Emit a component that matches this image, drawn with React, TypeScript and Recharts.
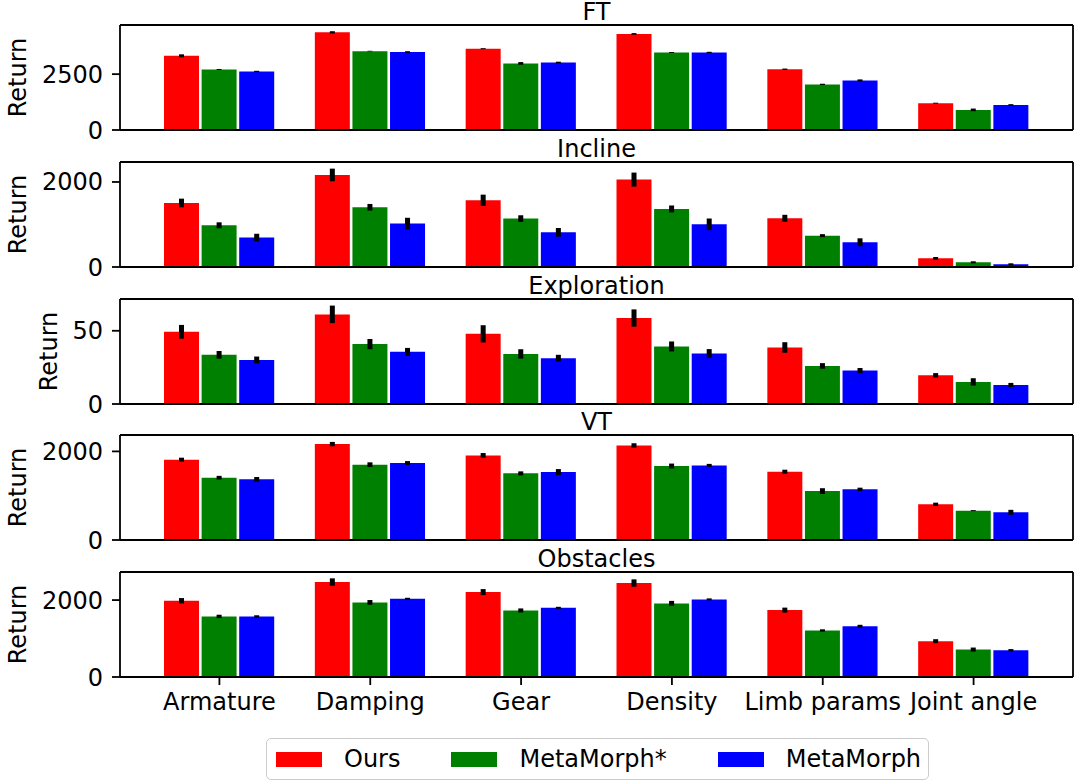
import React from 'react';
import { BarChart, Bar, Line, XAxis, YAxis, ErrorBar, Legend } from 'recharts';

const categories = ['Armature', 'Damping', 'Gear', 'Density', 'Limb params', 'Joint angle'];
const seriesNames = ['Ours', 'MetaMorph*', 'MetaMorph'];
const seriesKeys = ['ours', 'metaStar', 'meta'];
const seriesColors = ['#ff0000', '#008000', '#0000ff'];

// FT
const ftOurs = [3320, 4370, 3640, 4300, 2720, 1200];
const ftOursErr = [67, 52, 22, 37, 30, 22];
const ftMetaStar = [2710, 3530, 2980, 3470, 2040, 900];
const ftMetaStarErr = [22, 15, 60, 22, 30, 60];
const ftMeta = [2620, 3490, 3020, 3470, 2220, 1120];
const ftMetaErr = [30, 37, 37, 30, 45, 37];
const ftTicks = [0, 2500];

// Incline
const inclineOurs = [1506, 2165, 1569, 2056, 1146, 204];
const inclineOursErr = [102, 149, 133, 165, 82, 31];
const inclineMetaStar = [981, 1405, 1139, 1365, 738, 110];
const inclineMetaStarErr = [70, 78, 78, 82, 35, 24];
const inclineMeta = [692, 1021, 816, 1004, 581, 63];
const inclineMetaErr = [90, 137, 102, 137, 94, 24];
const inclineTicks = [0, 2000];

// Exploration
const explorationOurs = [49.3, 61.2, 47.9, 58.7, 38.6, 19.6];
const explorationOursErr = [4.7, 6.0, 5.9, 5.9, 3.6, 1.5];
const explorationMetaStar = [33.6, 40.9, 34.2, 39.3, 26.0, 15.1];
const explorationMetaStarErr = [2.6, 3.5, 3.2, 3.4, 1.9, 2.5];
const explorationMeta = [30.1, 35.6, 31.3, 34.5, 22.8, 13.0];
const explorationMetaErr = [2.3, 2.7, 2.3, 3.0, 1.8, 1.4];
const explorationTicks = [0, 50];

// VT
const vtOurs = [1813, 2165, 1910, 2135, 1542, 805];
const vtOursErr = [45, 49, 53, 49, 45, 38];
const vtMetaStar = [1407, 1700, 1504, 1669, 1105, 663];
const vtMetaStarErr = [41, 53, 45, 56, 64, 11];
const vtMeta = [1369, 1736, 1533, 1684, 1143, 625];
const vtMetaErr = [53, 45, 68, 34, 38, 56];
const vtTicks = [0, 2000];

// Obstacles
const obstaclesOurs = [1982, 2469, 2208, 2443, 1739, 931];
const obstaclesOursErr = [70, 96, 78, 96, 65, 52];
const obstaclesMetaStar = [1575, 1940, 1731, 1914, 1210, 714];
const obstaclesMetaStarErr = [44, 61, 52, 65, 30, 52];
const obstaclesMeta = [1575, 2034, 1799, 2018, 1322, 696];
const obstaclesMetaErr = [30, 26, 26, 26, 35, 30];
const obstaclesTicks = [0, 2000];

const panels = [
  { title: 'FT', means: [ftOurs, ftMetaStar, ftMeta], errs: [ftOursErr, ftMetaStarErr, ftMetaErr], yMax: 4700, ticks: ftTicks, labelX: 18, top: 25 },
  { title: 'Incline', means: [inclineOurs, inclineMetaStar, inclineMeta], errs: [inclineOursErr, inclineMetaStarErr, inclineMetaErr], yMax: 2470, ticks: inclineTicks, labelX: 18, top: 161.8 },
  { title: 'Exploration', means: [explorationOurs, explorationMetaStar, explorationMeta], errs: [explorationOursErr, explorationMetaStarErr, explorationMetaErr], yMax: 71.7, ticks: explorationTicks, labelX: 49, top: 298.5 },
  { title: 'VT', means: [vtOurs, vtMetaStar, vtMeta], errs: [vtOursErr, vtMetaStarErr, vtMetaErr], yMax: 2370, ticks: vtTicks, labelX: 18, top: 435 },
  { title: 'Obstacles', means: [obstaclesOurs, obstaclesMetaStar, obstaclesMeta], errs: [obstaclesOursErr, obstaclesMetaStarErr, obstaclesMetaErr], yMax: 2730, ticks: obstaclesTicks, labelX: 18, top: 572 },
];

const FONT = 24;
const PLOT_H = 105;
const TOP_PAD = 30;
const axisStyle = { stroke: '#000', strokeWidth: 1.8 };

const YLabel = (props: any) => {
  const { viewBox, cx } = props;
  const cy = viewBox.y + viewBox.height / 2;
  return (
    <text
      x={cx}
      y={cy}
      transform={`rotate(-90, ${cx}, ${cy})`}
      textAnchor="middle"
      dominantBaseline="central"
      fontSize={FONT}
      fill="#000"
    >
      Return
    </text>
  );
};

const LegendBox = (props: any) => {
  const items = (props.payload || [])
    .filter((p: any) => seriesNames.includes(p.value))
    .sort((a: any, b: any) => seriesNames.indexOf(a.value) - seriesNames.indexOf(b.value));
  return (
    <div
      style={{
        boxSizing: 'border-box',
        height: 42,
        width: 663,
        border: '1.5px solid #cccccc',
        borderRadius: 5,
        display: 'flex',
        alignItems: 'center',
        paddingLeft: 9,
        background: '#fff',
        fontSize: FONT,
        color: '#000',
      }}
    >
      {items.map((p: any, i: number) => (
        <div key={i} style={{ display: 'flex', alignItems: 'center', marginRight: i < items.length - 1 ? 51 : 0 }}>
          <span style={{ display: 'inline-block', width: 46, height: 15, background: p.color, marginRight: 22 }} />
          <span>{p.value}</span>
        </div>
      ))}
    </div>
  );
};

function Panel({ panel, last }: { panel: any; last: boolean }) {
  const data = categories.map((name, i) => {
    const row: any = { name };
    seriesKeys.forEach((k, s) => {
      row[k] = panel.means[s][i];
      row[k + 'Err'] = panel.errs[s][i];
    });
    return row;
  });
  // axes of zero size are not drawn, so the frame axes get 1px
  const xHeight = last ? 61 : 1;
  const legendH = last ? 42 : 0;
  const bottom = last ? 1 : 20;
  const height = TOP_PAD + PLOT_H + xHeight + legendH + bottom;

  return (
    <div style={{ position: 'absolute', left: 0, top: panel.top - TOP_PAD }}>
      <BarChart
        width={1076}
        height={height}
        data={data}
        margin={{ top: TOP_PAD - 1, right: 2, bottom, left: 0 }}
        barSize={35}
        barGap={2.6}
      >
        <XAxis
          dataKey="name"
          type="category"
          interval={0}
          padding={{ left: 24, right: 24 }}
          height={xHeight}
          axisLine={axisStyle}
          tick={last ? { fontSize: FONT, fill: '#000' } : false}
          tickLine={last ? axisStyle : false}
          tickSize={8}
          tickMargin={8}
        />
        <XAxis
          xAxisId="top"
          dataKey="name"
          type="category"
          orientation="top"
          height={1}
          axisLine={axisStyle}
          tick={false}
          tickLine={false}
          label={{ value: panel.title, position: 'top', offset: 4, fontSize: FONT, fill: '#000' }}
        />
        <YAxis
          type="number"
          domain={[0, panel.yMax]}
          ticks={panel.ticks}
          width={120}
          axisLine={axisStyle}
          tickLine={axisStyle}
          tickSize={8}
          tickMargin={9}
          tick={{ fontSize: FONT, fill: '#000' }}
          label={<YLabel cx={panel.labelX} />}
        />
        <YAxis
          yAxisId="right"
          type="number"
          orientation="right"
          width={1}
          axisLine={axisStyle}
          tick={false}
          tickLine={false}
        />
        {/* invisible series so the top and right frame axes get drawn */}
        <Line
          xAxisId="top"
          yAxisId="right"
          dataKey="ours"
          stroke="none"
          dot={false}
          activeDot={false}
          legendType="none"
          isAnimationActive={false}
        />
        {seriesKeys.map((k, s) => (
          <Bar key={k} dataKey={k} name={seriesNames[s]} fill={seriesColors[s]} isAnimationActive={false}>
            <ErrorBar dataKey={k + 'Err'} width={0} strokeWidth={5} stroke="#000" isAnimationActive={false} />
          </Bar>
        ))}
        {last && (
          <Legend
            verticalAlign="bottom"
            content={<LegendBox />}
            wrapperStyle={{ left: 266, width: 663, bottom: 1 }}
          />
        )}
      </BarChart>
    </div>
  );
}

export default function App() {
  return (
    <div
      style={{
        position: 'absolute',
        left: 0,
        top: 0,
        width: 1076,
        height: 781,
        background: '#fff',
        fontFamily: "'DejaVu Sans', sans-serif",
      }}
    >
      {panels.map((p, i) => (
        <Panel key={p.title} panel={p} last={i === panels.length - 1} />
      ))}
    </div>
  );
}
